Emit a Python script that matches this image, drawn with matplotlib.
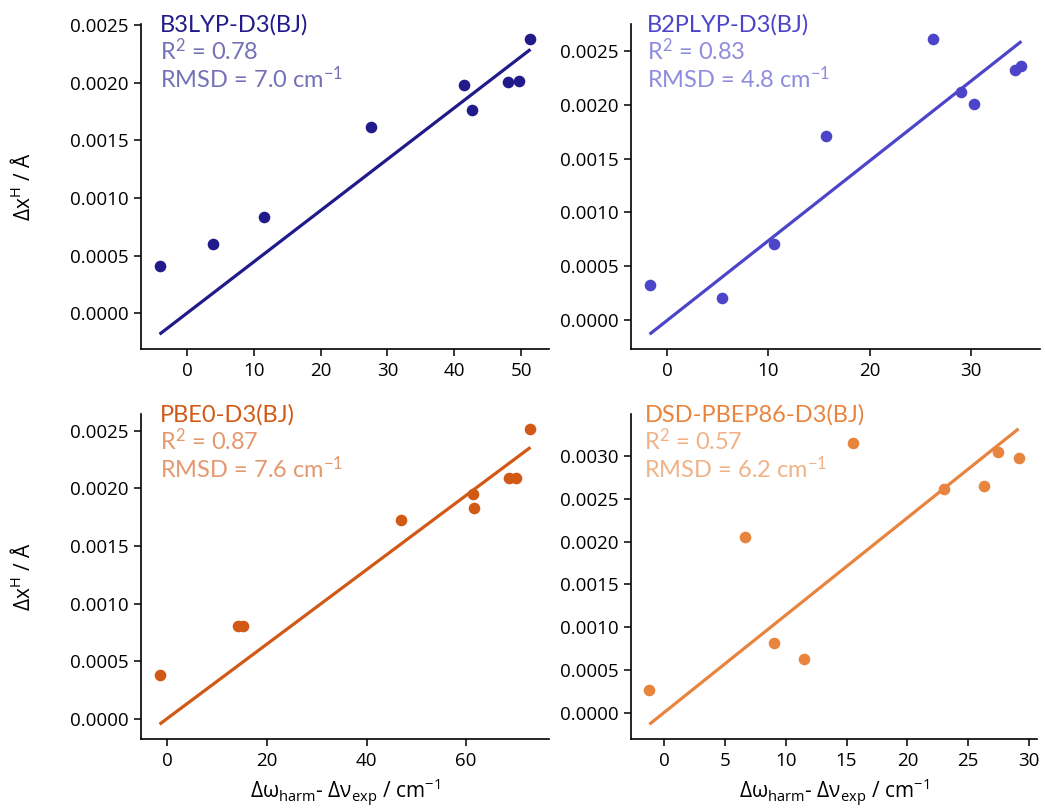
import numpy as np
import matplotlib
matplotlib.use("Agg")
import matplotlib.pyplot as plt
from matplotlib.ticker import MultipleLocator, FormatStrFormatter

# ---------------- data ----------------
methods = ["B3LYP-D3(BJ)", "B2PLYP-D3(BJ)", "PBE0-D3(BJ)", "DSD-PBEP86-D3(BJ)"]
r2_values = ["0.78", "0.83", "0.87", "0.57"]
rmsd_values = ["7.0", "4.8", "7.6", "6.2"]

b3lyp_x = [-4.1, 3.9, 11.6, 27.6, 41.5, 42.6, 48.1, 49.7, 51.4]
b3lyp_y = [0.000413, 0.000604, 0.000835, 0.001616, 0.001977, 0.001761, 0.002006, 0.002012, 0.002382]
b3lyp_fit = [-0.000180, 0.002290]

b2plyp_x = [-1.73, 5.41, 10.53, 15.69, 26.28, 29.0, 30.28, 34.35, 34.98]
b2plyp_y = [0.000325, 0.000201, 0.000709, 0.001716, 0.002616, 0.002124, 0.002010, 0.002323, 0.002360]
b2plyp_fit = [-0.000133, 0.002592]

pbe0_x = [-1.54, 14.3, 15.3, 46.9, 61.3, 61.6, 68.5, 69.9, 72.9]
pbe0_y = [0.000385, 0.000804, 0.000804, 0.001723, 0.001951, 0.001827, 0.002090, 0.002090, 0.002515]
pbe0_fit = [-0.000046, 0.002354]

dsd_x = [-1.19, 6.63, 9.01, 11.51, 15.5, 23.02, 26.3, 27.44, 29.13]
dsd_y = [0.000268, 0.002060, 0.000812, 0.000634, 0.003151, 0.002623, 0.002654, 0.003050, 0.002977]
dsd_fit = [-0.000135, 0.003322]

xs = [b3lyp_x, b2plyp_x, pbe0_x, dsd_x]
ys = [b3lyp_y, b2plyp_y, pbe0_y, dsd_y]
fits = [b3lyp_fit, b2plyp_fit, pbe0_fit, dsd_fit]
x_steps = [10, 10, 20, 5]

colors = ["#201a8a", "#4d45c9", "#d25915", "#e8843e"]

# ---------------- style ----------------
plt.rcParams["font.family"] = ["Open Sans", "DejaVu Sans"]
plt.rcParams["mathtext.fontset"] = "custom"
plt.rcParams["mathtext.rm"] = "Open Sans"
plt.rcParams["mathtext.it"] = "Open Sans:italic"
plt.rcParams["mathtext.bf"] = "Open Sans:bold"
plt.rcParams["mathtext.default"] = "regular"

fig = plt.figure(figsize=(10.45, 8.1), dpi=100)

W, H = 1045.0, 810.0
boxes = [(141, 24, 549, 349), (631, 24, 1040, 349),
         (141, 414, 549, 739), (631, 414, 1037, 739)]
text_x = [0.047, 0.038, 0.047, 0.033]

for i in range(4):
    l, t, r, b = boxes[i]
    ax = fig.add_axes([l / W, 1 - b / H, (r - l) / W, (b - t) / H])
    x = np.array(xs[i])
    y = np.array(ys[i])
    c = colors[i]
    ax.plot([x.min(), x.max()], fits[i], color=c, lw=2.3, solid_capstyle="butt", zorder=2)
    ax.scatter(x, y, s=70, color=c, linewidths=0, zorder=3)

    ax.margins(0.05)
    for s in ["top", "right"]:
        ax.spines[s].set_visible(False)
    for s in ["left", "bottom"]:
        ax.spines[s].set_linewidth(1.2)
    ax.tick_params(direction="out", length=5, width=1.1, labelsize=13.5, pad=4)
    ax.yaxis.set_major_locator(MultipleLocator(0.0005))
    ax.yaxis.set_major_formatter(FormatStrFormatter("%.4f"))
    ax.xaxis.set_major_locator(MultipleLocator(x_steps[i]))

    tx = text_x[i]
    ax.text(tx, 0.977, methods[i], transform=ax.transAxes, color=c,
            fontsize=17, family="Lato", va="baseline", ha="left", clip_on=False)
    ax.text(tx, 0.890, "R$^{2}$ = " + r2_values[i], transform=ax.transAxes, color=c,
            alpha=0.62, fontsize=17, family="Lato",
            va="baseline", ha="left")
    ax.text(tx, 0.804, "RMSD = " + rmsd_values[i] + " cm$^{-1}$", transform=ax.transAxes,
            color=c, alpha=0.62, fontsize=17, family="Lato",
            va="baseline", ha="left")

    if i % 2 == 0:
        ax.set_ylabel("Δx$^{H}$ / Å", fontsize=15)
        ax.yaxis.set_label_coords(-0.26, 0.5)
    if i >= 2:
        ax.set_xlabel("Δω$_{harm}$- Δν$_{exp}$ / cm$^{-1}$", fontsize=15, labelpad=5)

fig.savefig("out.png", dpi=100)
